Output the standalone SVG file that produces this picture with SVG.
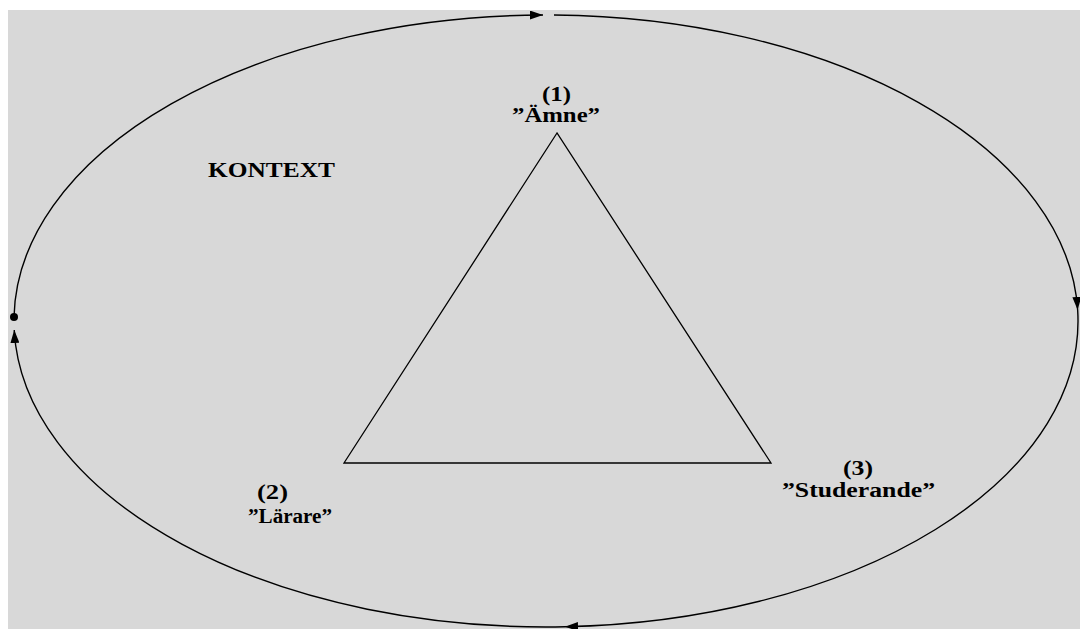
<svg xmlns="http://www.w3.org/2000/svg" width="1080" height="629" viewBox="0 0 1080 629">
<defs>
<style>
.lbl{font-family:"Liberation Serif","Times New Roman",serif;font-weight:bold;font-size:20px;fill:#000}
.edge{fill:none;stroke:#000;stroke-width:1.4}
</style>
<marker id="arr" viewBox="0 0 13 9" refX="13" refY="4.5" markerWidth="13" markerHeight="9" markerUnits="userSpaceOnUse" orient="auto">
<path d="M0,0 L13,4.5 L0,9 Z" fill="#000"/>
</marker>
</defs>
<rect x="0" y="0" width="1080" height="629" fill="#ffffff"/>
<rect x="8" y="10" width="1072" height="619" fill="#d8d8d8"/>
<g id="connectors">
<path class="edge" d="M554,15.03 A532,306 0 0 1 1077.66,310" marker-end="url(#arr)"/>
<path class="edge" d="M1077.66,310 A532,306 0 0 1 565,626.8" marker-end="url(#arr)"/>
<path class="edge" d="M565,626.8 A532,306 0 0 1 14.23,330" marker-end="url(#arr)"/>
<path class="edge" d="M14.0,317 A532,306 0 0 1 543,15.03" marker-end="url(#arr)"/>
<circle cx="14" cy="317" r="4" fill="#000"/>
</g>
<g id="triangle">
<polygon points="557,133 344,463 771,463" fill="none" stroke="#000" stroke-width="1.3"/>
</g>
<g id="context">
<text class="lbl" x="208" y="177" textLength="127" lengthAdjust="spacingAndGlyphs">KONTEXT</text>
</g>
<g id="node1">
<text class="lbl" x="542" y="101" textLength="29" lengthAdjust="spacingAndGlyphs">(1)</text>
<text class="lbl" x="512" y="122" textLength="88" lengthAdjust="spacingAndGlyphs">”Ämne”</text>
</g>
<g id="node2">
<text class="lbl" x="257" y="499" textLength="31" lengthAdjust="spacingAndGlyphs">(2)</text>
<text class="lbl" x="248" y="523" textLength="84" lengthAdjust="spacingAndGlyphs">”Lärare”</text>
</g>
<g id="node3">
<text class="lbl" x="843" y="475" textLength="30" lengthAdjust="spacingAndGlyphs">(3)</text>
<text class="lbl" x="782" y="497" textLength="153" lengthAdjust="spacingAndGlyphs">”Studerande”</text>
</g>
</svg>
